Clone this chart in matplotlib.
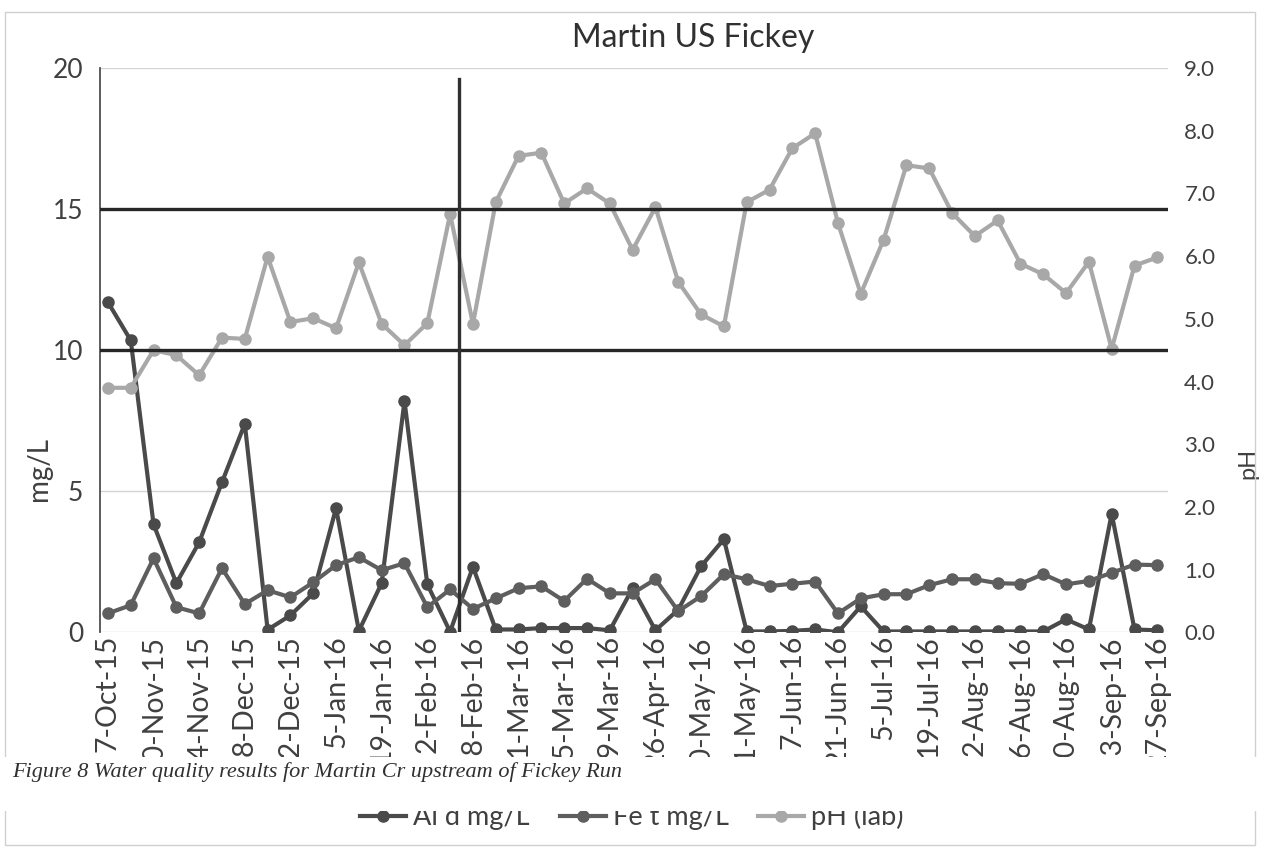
import matplotlib
matplotlib.use("Agg")
import matplotlib.pyplot as plt
from matplotlib.patches import Rectangle
from matplotlib.lines import Line2D
from matplotlib.transforms import blended_transform_factory

plt.rcParams['font.family'] = ['Lato', 'DejaVu Sans']

# sampling dates shown on the category axis (every second sample is labelled)
tick_labels = ['7-Oct-15', '10-Nov-15', '24-Nov-15', '8-Dec-15', '22-Dec-15',
               '5-Jan-16', '19-Jan-16', '2-Feb-16', '18-Feb-16', '1-Mar-16',
               '15-Mar-16', '29-Mar-16', '26-Apr-16', '10-May-16', '31-May-16',
               '7-Jun-16', '21-Jun-16', '5-Jul-16', '19-Jul-16', '2-Aug-16',
               '16-Aug-16', '30-Aug-16', '13-Sep-16', '27-Sep-16']

al_d = [11.7, 10.35, 3.83, 1.74, 3.19, 5.32, 7.39, 0.09, 0.6, 1.38,
        4.4, 0.05, 1.74, 8.2, 1.7, 0.02, 2.32, 0.1, 0.1, 0.15,
        0.15, 0.15, 0.07, 1.56, 0.07, 0.8, 2.34, 3.3, 0.03, 0.03,
        0.05, 0.1, 0.0, 0.92, 0.03, 0.03, 0.03, 0.03, 0.03, 0.03,
        0.03, 0.03, 0.46, 0.1, 4.2, 0.1, 0.07]

fe_t = [0.67, 0.96, 2.62, 0.89, 0.67, 2.27, 1.0, 1.49, 1.24, 1.77,
        2.38, 2.66, 2.2, 2.45, 0.89, 1.52, 0.83, 1.2, 1.56, 1.63,
        1.11, 1.9, 1.38, 1.38, 1.88, 0.75, 1.28, 2.06, 1.88, 1.64,
        1.72, 1.8, 0.67, 1.2, 1.35, 1.35, 1.67, 1.88, 1.88, 1.74,
        1.72, 2.06, 1.7, 1.82, 2.11, 2.4, 2.38]

ph_lab = [3.9, 3.9, 4.5, 4.42, 4.1, 4.7, 4.68, 5.99, 4.95, 5.01,
          4.85, 5.9, 4.92, 4.58, 4.93, 6.67, 4.92, 6.86, 7.6, 7.65,
          6.84, 7.08, 6.84, 6.1, 6.78, 5.59, 5.07, 4.88, 6.86, 7.06,
          7.72, 7.96, 6.53, 5.4, 6.26, 7.45, 7.4, 6.69, 6.32, 6.57,
          5.88, 5.71, 5.41, 5.91, 4.52, 5.85, 5.98]

# hand drawn reference lines on the printed chart
ref_levels = [15, 10]   # mg/L
ref_x = 15.4            # between 2-Feb-16 and 18-Feb-16

x = list(range(len(ph_lab)))

fig = plt.figure(figsize=(12.65, 8.51), dpi=100)
ax = fig.add_axes([0.079, 0.257, 0.844, 0.663])
ax2 = ax.twinx()

ax.plot(x, al_d, color='#4a4a4a', lw=3, marker='o', ms=8, label='Al d mg/L')
ax.plot(x, fe_t, color='#5e5e5e', lw=3, marker='o', ms=8, label='Fe t mg/L')
ax2.plot(x, ph_lab, color='#a8a8a8', lw=3, marker='o', ms=8, label='pH (lab)')

ax.set_xlim(-0.35, 46.45)
ax.set_ylim(0, 20)
ax.set_yticks([0, 5, 10, 15, 20])
ax2.set_ylim(0, 9)
ax2.set_yticks(range(10))
ax2.set_yticklabels(['%.1f' % v for v in range(10)])

ax.set_xticks(x[::2])
ax.set_xticklabels(tick_labels, rotation=90, fontsize=20.5, color='#404040')
ax.tick_params(axis='both', length=0)
ax.tick_params(axis='x', pad=2)
ax.tick_params(axis='y', labelsize=19, labelcolor='#404040', pad=12)
ax2.tick_params(axis='y', length=0, labelsize=16, labelcolor='#404040', pad=12)

ax.grid(axis='y', color='#d4d4d4', lw=1)
ax.set_axisbelow(True)
for s in ['top', 'right', 'bottom']:
    ax.spines[s].set_visible(False)
    ax2.spines[s].set_visible(False)
ax2.spines['left'].set_visible(False)
ax.spines['left'].set_color('#505050')
ax.spines['left'].set_linewidth(1.3)

ax.set_ylabel('mg/L', fontsize=20, color='#404040')
ax.yaxis.set_label_coords(-0.045, 0.29)
ax2.set_ylabel('pH', fontsize=17, color='#404040')
ax2.yaxis.set_label_coords(1.065, 0.3)

# reference lines drawn over the chart
tr = blended_transform_factory(ax2.transAxes, ax.transData)
for lv in ref_levels:
    ax2.plot([0, 1], [lv, lv], transform=tr, color='#262626', lw=2.4)
ax2.axvline(ref_x, ymin=0, ymax=0.98, color='#303030', lw=2.4)

fig.text(693 / 1265, 1 - 38 / 851, 'Martin US Fickey', ha='center', va='center',
         fontsize=23, color='#303030')

handles = [Line2D([], [], color='#4a4a4a', lw=3, marker='o', ms=8),
           Line2D([], [], color='#5e5e5e', lw=3, marker='o', ms=8),
           Line2D([], [], color='#a8a8a8', lw=3, marker='o', ms=8)]
leg = fig.legend(handles, ['Al d mg/L', 'Fe t mg/L', 'pH (lab)'], ncol=3,
                 loc='center', bbox_to_anchor=(632 / 1265, 1 - 817 / 851), frameon=False,
                 fontsize=19.5, handlelength=1.7, handletextpad=0.26, columnspacing=1.1,
                 labelcolor='#404040')
leg.set_zorder(3)

# caption box of the report, pasted over the chart
fig.add_artist(Rectangle((0, 1 - 811 / 851), 1, 54 / 851, transform=fig.transFigure,
                         facecolor='white', edgecolor='none', zorder=5))
fig.text(12 / 1265, 1 - 772 / 851,
         'Figure 8 Water quality results for Martin Cr upstream of Fickey Run',
         family='Liberation Serif', style='italic', fontsize=16, color='#303030',
         ha='left', va='center', zorder=6)

# chart area border
fig.add_artist(Rectangle((0.004, 1 - 845 / 851), 0.988, 833 / 851, transform=fig.transFigure,
                         facecolor='none', edgecolor='#d0d0d0', lw=1, zorder=1))

fig.savefig('out.png', dpi=100)
